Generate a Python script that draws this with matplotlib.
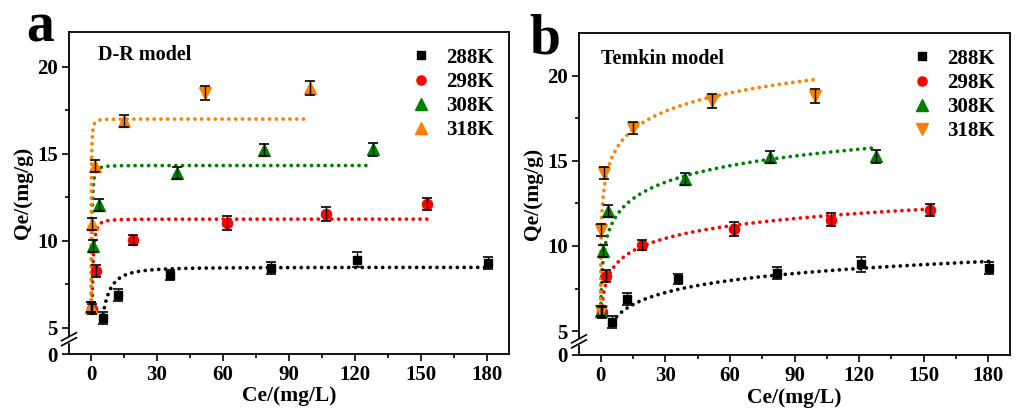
import numpy as np
import matplotlib
matplotlib.use('Agg')
import matplotlib.pyplot as plt
from matplotlib.ticker import MultipleLocator, FixedLocator
from matplotlib.lines import Line2D

plt.rcParams['font.family'] = ['Liberation Serif', 'DejaVu Serif']
plt.rcParams['font.weight'] = 'bold'
plt.rcParams['axes.labelweight'] = 'bold'

# ---------------- data ----------------
labels = ['288K', '298K', '308K', '318K']
temps = [288, 298, 308, 318]

ce_288 = [5.5, 12.2, 35.8, 81.8, 120.8, 180.3]
qe_288 = [5.55, 6.9, 8.05, 8.43, 8.92, 8.72]
err_288 = [0.35, 0.35, 0.3, 0.35, 0.45, 0.35]

ce_298 = [0.5, 2.3, 19.2, 62.0, 107.0, 152.8]
qe_298 = [6.1, 8.25, 10.05, 11.0, 11.55, 12.12]
err_298 = [0.3, 0.35, 0.3, 0.4, 0.4, 0.35]

ce_308 = [0.14, 1.0, 3.5, 39.0, 78.5, 128.0]
qe_308 = [6.2, 9.7, 12.05, 13.92, 15.22, 15.27]
err_308 = [0.3, 0.35, 0.35, 0.35, 0.35, 0.38]

ce_318 = [0.02, 0.4, 1.6, 15.0, 51.8, 99.5]
qe_318 = [6.2, 10.95, 14.3, 16.9, 18.5, 18.8]
err_318 = [0.3, 0.35, 0.35, 0.35, 0.4, 0.4]

# fitted model parameters
dr_qm = [8.48, 11.25, 14.33, 17.0]
dr_K = [2.4e-6, 8.3e-8, 2.9e-8, 9.3e-9]
tk_B = [1.02, 1.06, 1.40, 1.56]
tk_A = [41.3, 634.0, 609.5, 3212.0]
R = 8.314

ce_all = [ce_288, ce_298, ce_308, ce_318]
qe_all = [qe_288, qe_298, qe_308, qe_318]
err_all = [err_288, err_298, err_308, err_318]

# ---------------- styles ----------------
colors = ['#000000', '#FF0000', '#008000', '#FF8000']
markers_a = [['s'] * 6, ['o'] * 6, ['^'] * 6, ['^', '^', '^', '^', 'v', '^']]
legend_markers_a = ['s', 'o', '^', '^']
markers_b = [['s'] * 6, ['o'] * 6, ['^'] * 6, ['v'] * 6]
legend_markers_b = ['s', 'o', '^', 'v']
msizes = {'s': 6.3, 'o': 7.3, '^': 9, 'v': 9}
dotstyle = (0, (0.01, 1.8))


def dr_model(ce, qm, K, T):
    eps = R * T * np.log(1 + 1 / ce)
    return qm * np.exp(-K * eps ** 2)


def tk_model(ce, B, A):
    return B * np.log(A * ce)


fig = plt.figure(figsize=(10.15, 4.08), dpi=100)
ax_a = fig.add_axes([69 / 1015, 1 - 354 / 408, 440 / 1015, 322 / 408])
ax_b = fig.add_axes([579 / 1015, 1 - 355 / 408, 431 / 1015, 322 / 408])


def setup(ax, ylo, yhi, brk_y):
    ax.set_xlim(-10, 190)
    ax.set_ylim(ylo, yhi)
    ax.xaxis.set_major_locator(MultipleLocator(30))
    ax.xaxis.set_minor_locator(MultipleLocator(15))
    ax.yaxis.set_major_locator(FixedLocator([ylo, 5, 10, 15, 20]))
    ax.set_yticklabels(['0', '5', '10', '15', '20'])
    ax.yaxis.set_minor_locator(FixedLocator([7.5, 12.5, 17.5]))
    ax.tick_params(which='both', direction='out', top=False, right=False,
                   labelsize=15, width=1.2, pad=3)
    ax.tick_params(which='major', length=5)
    ax.tick_params(which='minor', length=3)
    for s in ax.spines.values():
        s.set_linewidth(1.3)
    ax.set_xlabel('Ce/(mg/L)', fontsize=15.5, fontweight='bold', labelpad=1)
    ax.set_ylabel('Qe/(mg/g)', fontsize=15.5, fontweight='bold', labelpad=3)
    # axis break marks
    tr = ax.get_yaxis_transform()
    dy = (yhi - ylo) * 4 / 322
    gap = (yhi - ylo) * 5 / 322
    ax.fill_between([-0.01, 0.01], brk_y - gap / 2, brk_y + gap / 2,
                    color='white', transform=tr, clip_on=False, zorder=5)
    for off in (-gap / 2, gap / 2):
        ax.plot([-0.017, 0.017], [brk_y + off - dy, brk_y + off + dy],
                color='black', lw=1.2, transform=tr, clip_on=False, zorder=6)


setup(ax_a, 3.5, 22.0, 4.35)
setup(ax_b, 3.6, 22.5, 4.4)

for i in range(4):
    ce = np.array(ce_all[i])
    qe = np.array(qe_all[i])
    er = np.array(err_all[i])
    xs = np.geomspace(ce.min(), ce.max(), 600)
    ax_a.plot(xs, dr_model(xs, dr_qm[i], dr_K[i], temps[i]), color=colors[i],
              lw=2.7, linestyle=dotstyle, dash_capstyle='round', zorder=2)
    ax_b.plot(xs, tk_model(xs, tk_B[i], tk_A[i]), color=colors[i],
              lw=2.7, linestyle=dotstyle, dash_capstyle='round', zorder=2)
    for ax, mks in ((ax_a, markers_a[i]), (ax_b, markers_b[i])):
        for x, y, m in zip(ce, qe, mks):
            ax.plot([x], [y], marker=m, color=colors[i], ms=msizes[m],
                    linestyle='none', zorder=3)
        ax.errorbar(ce, qe, yerr=er, fmt='none', ecolor='black',
                    elinewidth=1.0, capsize=3.5, capthick=1.2, zorder=4)


def legend(ax, mks):
    handles = [Line2D([], [], marker=m, color=c, linestyle='none',
                      ms=msizes[m] * 0.9) for m, c in zip(mks, colors)]
    ax.legend(handles, labels, loc='upper right', frameon=False,
              prop={'size': 15, 'weight': 'bold'}, handlelength=1.0,
              handletextpad=0.7, labelspacing=0.2, borderaxespad=0.35)


legend(ax_a, legend_markers_a)
legend(ax_b, legend_markers_b)

ax_a.text(0.065, 0.93, 'D-R model', transform=ax_a.transAxes, fontsize=14.5,
          fontweight='bold', va='center', ha='left')
ax_b.text(0.05, 0.92, 'Temkin model', transform=ax_b.transAxes, fontsize=14.5,
          fontweight='bold', va='center', ha='left')

fig.text(40 / 1015, 1 - 42 / 408, 'a', fontsize=40, fontweight='bold',
         ha='center', va='baseline')
fig.text(545 / 1015, 1 - 53 / 408, 'b', fontsize=40, fontweight='bold',
         ha='center', va='baseline')

fig.savefig('out.png', dpi=100)
